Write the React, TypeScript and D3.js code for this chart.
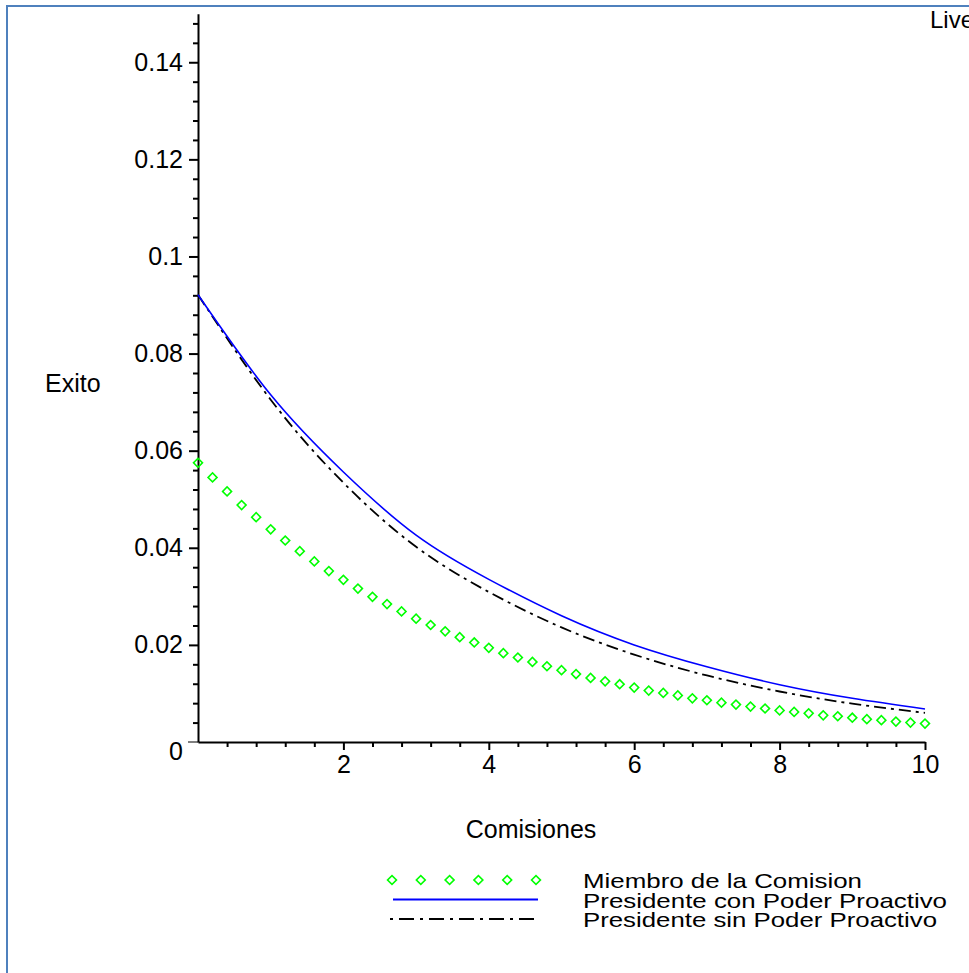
import React, { useEffect, useRef } from "react";
import * as d3 from "d3";

// curves at whole x values
const comisiones = [0, 1, 2, 3, 4, 5, 6, 7, 8, 9, 10];
const presidenteCon = [0.0921, 0.0715, 0.0556, 0.0426, 0.0335, 0.026, 0.02, 0.0155, 0.0118, 0.009, 0.0068];
const presidenteSin = [0.0921, 0.0705, 0.0534, 0.0402, 0.0309, 0.0236, 0.018, 0.0137, 0.0104, 0.0079, 0.006];

// diamonds, one every 0.2
const comisionesMiembro = [
  0, 0.2, 0.4, 0.6, 0.8, 1, 1.2, 1.4, 1.6, 1.8, 2, 2.2, 2.4, 2.6, 2.8, 3, 3.2, 3.4, 3.6, 3.8, 4,
  4.2, 4.4, 4.6, 4.8, 5, 5.2, 5.4, 5.6, 5.8, 6, 6.2, 6.4, 6.6, 6.8, 7, 7.2, 7.4, 7.6, 7.8, 8,
  8.2, 8.4, 8.6, 8.8, 9, 9.2, 9.4, 9.6, 9.8, 10,
];
const miembro = [
  0.0575, 0.0545, 0.0516, 0.0488, 0.0463, 0.0438, 0.0415, 0.0393, 0.0372, 0.0352, 0.0334,
  0.0316, 0.0299, 0.0284, 0.0269, 0.0254, 0.0241, 0.0228, 0.0216, 0.0205, 0.0194,
  0.0183, 0.0174, 0.0165, 0.0156, 0.0148, 0.014, 0.0132, 0.0125, 0.0119, 0.0112,
  0.0106, 0.0101, 0.0096, 0.009, 0.0086, 0.0081, 0.0077, 0.0073, 0.0069, 0.0065,
  0.0062, 0.0059, 0.0055, 0.0053, 0.005, 0.0047, 0.0045, 0.0042, 0.004, 0.0038,
];

const yTicks = [0.02, 0.04, 0.06, 0.08, 0.1, 0.12, 0.14];
const yTickLabels = ["0.02", "0.04", "0.06", "0.08", "0.1", "0.12", "0.14"];
const xTicks = [2, 4, 6, 8, 10];

const legendLabels = [
  "Miembro de la Comision",
  "Presidente con Poder Proactivo",
  "Presidente sin Poder Proactivo",
];
const legendWidths = [279, 364, 354];

const font = "'Liberation Sans', Arial, sans-serif";
const W = 969;
const H = 973;

function ExitoChart() {
  const svgRef = useRef(null);

  useEffect(() => {
    const svg = d3.select(svgRef.current);
    svg.selectAll("*").remove();

    const x = d3.scaleLinear().domain([0, 10]).range([198, 925]);
    const y = d3.scaleLinear().domain([0, 0.15]).range([742, 13.7]);

    // frame of the screenshot
    svg.append("line").attr("x1", 6).attr("x2", W).attr("y1", 6).attr("y2", 6)
      .attr("stroke", "#4f81bd").attr("stroke-width", 2);
    svg.append("line").attr("x1", 7).attr("x2", 7).attr("y1", 6).attr("y2", H)
      .attr("stroke", "#4f81bd").attr("stroke-width", 2);

    // cut off by the screenshot edge, as in the original
    svg.append("text").attr("x", 930).attr("y", 28).attr("font-family", font)
      .attr("font-size", 24).text("Live");

    // y axis
    const yMinor = d3.range(1, 38).filter((i) => i % 5 !== 0).map((i) => i * 0.004);
    const gy = svg.append("g").attr("transform", `translate(${x(0)},0)`);
    gy.call(d3.axisLeft(y).tickValues(yTicks).tickSize(9).tickSizeOuter(0).tickPadding(6)
      .tickFormat((d, i) => yTickLabels[i]));
    gy.append("g").call(d3.axisLeft(y).tickValues(yMinor).tickSize(5).tickSizeOuter(0).tickFormat(() => ""));
    gy.selectAll("g g .domain").remove();

    // x axis
    const xMinor = d3.range(1, 26).filter((i) => i % 5 !== 0).map((i) => i * 0.4);
    const gx = svg.append("g").attr("transform", `translate(0,${y(0)})`);
    gx.call(d3.axisBottom(x).tickValues(xTicks).tickSize(8).tickSizeOuter(0).tickPadding(5)
      .tickFormat(d3.format("d")));
    gx.append("g").call(d3.axisBottom(x).tickValues(xMinor).tickSize(5).tickSizeOuter(0).tickFormat(() => ""));
    gx.selectAll("g g .domain").remove();
    gx.append("line").attr("x1", 188).attr("x2", x(0)).attr("stroke", "#000");

    svg.selectAll(".domain, .tick line").attr("stroke", "#000").attr("stroke-width", 2);
    svg.selectAll(".tick text").attr("font-family", font).attr("font-size", 25).attr("fill", "#000");

    svg.append("text").attr("x", 183).attr("y", 760).attr("text-anchor", "end")
      .attr("font-family", font).attr("font-size", 25).text("0");

    svg.append("text").attr("x", 45).attr("y", 392).attr("font-family", font)
      .attr("font-size", 25).text("Exito");
    svg.append("text").attr("x", 531).attr("y", 838).attr("text-anchor", "middle")
      .attr("font-family", font).attr("font-size", 25).text("Comisiones");

    // series
    const line = d3.line().x((d) => x(d[0])).y((d) => y(d[1])).curve(d3.curveNatural);
    svg.append("path")
      .attr("d", line(comisiones.map((c, i) => [c, presidenteSin[i]])))
      .attr("fill", "none").attr("stroke", "#000").attr("stroke-width", 1.8)
      .attr("stroke-dasharray", "12,5,3,5");
    svg.append("path")
      .attr("d", line(comisiones.map((c, i) => [c, presidenteCon[i]])))
      .attr("fill", "none").attr("stroke", "#0000ff").attr("stroke-width", 1.6);

    const diamond = d3.symbol().type(d3.symbolSquare).size(40);
    svg.append("g").selectAll("path")
      .data(comisionesMiembro.map((c, i) => [c, miembro[i]]))
      .join("path")
      .attr("d", diamond)
      .attr("transform", (d) => `translate(${x(d[0])},${y(d[1])}) rotate(45)`)
      .attr("fill", "none").attr("stroke", "#00ff00").attr("stroke-width", 1.6);

    // legend - rows sit tight, like in the Maple export
    const legend = svg.append("g");
    const rowY = (i) => 888 + i * 19.5;
    legend.selectAll("text").data(legendLabels).join("text")
      .attr("x", 583).attr("y", (d, i) => rowY(i))
      .attr("textLength", (d, i) => legendWidths[i])
      .attr("lengthAdjust", "spacingAndGlyphs")
      .attr("font-family", font).attr("font-size", 21).text((d) => d);
    const legendX = d3.scaleLinear().domain([0, 5]).range([392, 536]);
    legend.selectAll(".leg-diamond").data(d3.range(6)).join("path")
      .attr("class", "leg-diamond").attr("d", diamond)
      .attr("transform", (d) => `translate(${legendX(d)},${rowY(0) - 8}) rotate(45)`)
      .attr("fill", "none").attr("stroke", "#00ff00").attr("stroke-width", 1.6);
    legend.append("line").attr("x1", 393).attr("x2", 538).attr("y1", rowY(1) - 8).attr("y2", rowY(1) - 8)
      .attr("stroke", "#0000ff").attr("stroke-width", 2);
    legend.append("line").attr("x1", 390).attr("x2", 538).attr("y1", rowY(2) - 8).attr("y2", rowY(2) - 8)
      .attr("stroke", "#000").attr("stroke-width", 1.8).attr("stroke-dasharray", "3,6,15,6");
  }, []);

  return (
    <div style={{ position: "absolute", left: 0, top: 0, width: W, height: H, background: "#fff" }}>
      <svg ref={svgRef} width={W} height={H} style={{ display: "block" }} />
    </div>
  );
}

export default function App() {
  return <ExitoChart />;
}
